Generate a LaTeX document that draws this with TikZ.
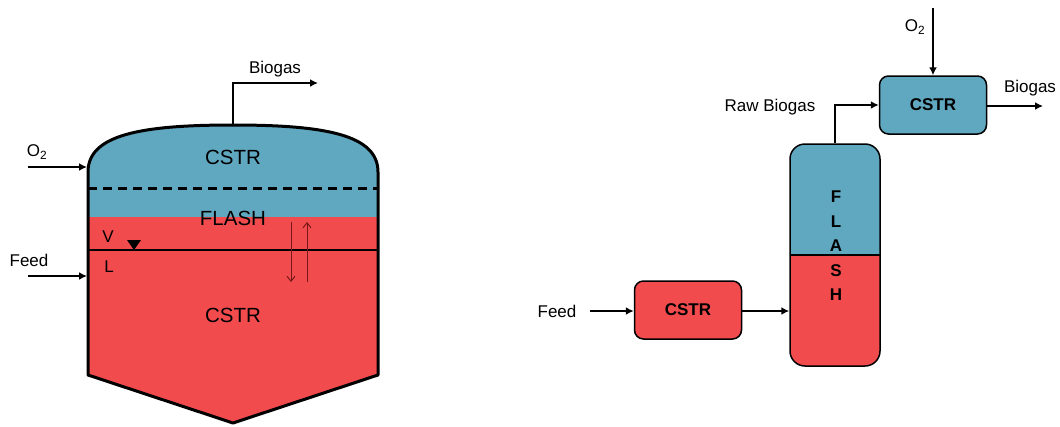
\documentclass[tikz,border=0pt]{standalone}
\usepackage{fontspec}
\setmainfont{Liberation Sans}
\usetikzlibrary{arrows.meta,calc}
\definecolor{vblue}{RGB}{96,167,192}
\definecolor{vred}{RGB}{242,75,77}
\definecolor{darr}{RGB}{120,25,25}
\tikzset{
  big/.style={font=\fontsize{20.5}{24}\selectfont, inner sep=0pt},
  lbl/.style={font=\fontsize{17}{20}\selectfont, inner sep=0pt},
  flow/.style={line width=2.5pt, -{Latex[length=8pt,width=8pt]}},
  thinarr/.style={draw=darr, line width=1pt, -{Straight Barb[length=5pt,width=8pt]}},
  unit/.style={draw, line width=1.5pt, rounded corners=9pt, minimum width=107pt, minimum height=58pt,
    font=\bfseries\fontsize{17}{20}\selectfont, inner sep=0pt},
}
\begin{document}
\begin{tikzpicture}[x=1pt,y=-1pt]
\useasboundingbox (0,0) rectangle (1060,426);
% ---------- left vessel ----------
\fill[vblue] (88,217) -- (88,172) .. controls (88,135) and (140,125) .. (233,125)
  .. controls (326,125) and (378,135) .. (378,172) -- (378,217) -- cycle;
\fill[vred] (88,217) -- (378,217) -- (378,375) -- (233,423) -- (88,375) -- cycle;
\draw[line width=3pt, dash pattern=on 9pt off 6pt] (88,188) -- (378,188);
\draw[line width=1.5pt] (88,250) -- (378,250);
\fill (127,240) -- (141,240) -- (134,250) -- cycle;
\draw[line width=3pt, line join=round] (88,375) -- (88,172) .. controls (88,135) and (140,125) .. (233,125)
  .. controls (326,125) and (378,135) .. (378,172) -- (378,375) -- (233,423) -- cycle;
\node[big] (cstrTop) at (233,157) {CSTR};
\node[big] (flashL) at (233,218) {FLASH};
\node[big] (cstrBot) at (233,315) {CSTR};
\node[lbl] (vlab) at (108,237) {V};
\node[lbl] (llab) at (109,267) {L};
\coordinate (dnA) at (291,222); \coordinate (dnB) at (291,282);
\coordinate (upA) at (307,282); \coordinate (upB) at (307,222);
\draw[thinarr] (dnA) -- (dnB);
\draw[thinarr] (upA) -- (upB);
\coordinate (domeTop) at (233,125);
\coordinate (bgOut) at (318,83);
\draw[flow] (domeTop) |- (bgOut);
\node[lbl] (bgLabL) at (275,69) {Biogas};
\coordinate (o2s) at (28,167); \coordinate (o2e) at (87,167);
\draw[flow] (o2s) -- (o2e);
\node[lbl] (o2L) at (37,152) {O\textsubscript{2}};
\coordinate (fs) at (28,276); \coordinate (fe) at (87,276);
\draw[flow] (fs) -- (fe);
\node[lbl] (feedL) at (29,260) {Feed};
% ---------- right flowsheet ----------
\node[unit, fill=vred] (cstrA) at (688,310) {CSTR};
\node[draw, line width=1.5pt, rounded corners=15pt, minimum width=90pt, minimum height=222pt,
  path picture={
    \fill[vblue, sharp corners] (path picture bounding box.north west) rectangle (path picture bounding box.east);
    \fill[vred, sharp corners] (path picture bounding box.west) rectangle (path picture bounding box.south east);
    \draw[line width=1.5pt, sharp corners] (path picture bounding box.west) -- (path picture bounding box.east);
  }] (flash) at (835,255) {};
\node[font=\bfseries\fontsize{17}{24.5}\selectfont, align=center, inner sep=0pt] (flashTxt) at (836,246) {F\\L\\A\\S\\H};
\node[unit, fill=vblue] (cstrB) at (933,105) {CSTR};
\coordinate (feedS) at (590,311);
\node[lbl] (feedR) at (557,311) {Feed};
\draw[flow] (feedS) -- (cstrA.west |- feedS);
\draw[flow] (cstrA.east |- feedS) -- (flash.west |- feedS);
\draw[flow] (flash.north) |- (cstrB.west);
\node[lbl] (rawL) at (770,107) {Raw Biogas};
\coordinate (o2top) at (933,8);
\draw[flow] (o2top) -- (cstrB.north);
\node[lbl] (o2R) at (915,27) {O\textsubscript{2}};
\coordinate (bgEnd) at (1043,106);
\draw[flow] (cstrB.east |- bgEnd) -- (bgEnd);
\node[lbl] (bgR) at (1030,88) {Biogas};
\end{tikzpicture}
\end{document}
